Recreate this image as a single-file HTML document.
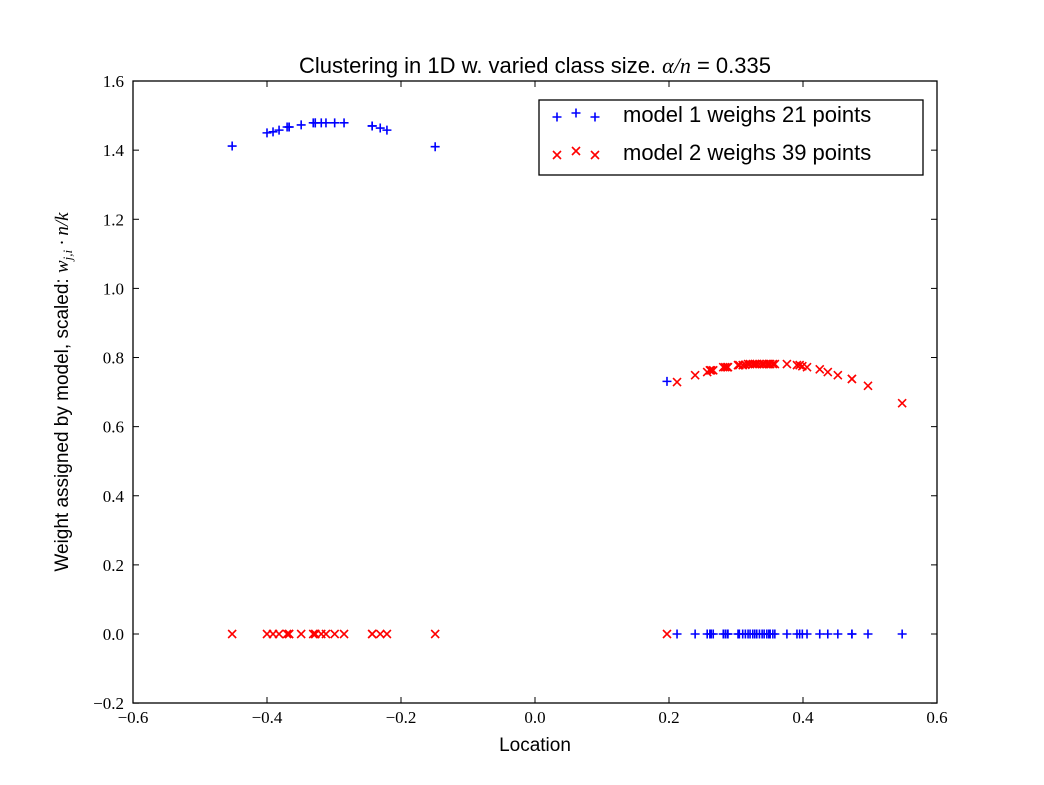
<!DOCTYPE html>
<html><head><meta charset="utf-8"><style>
html,body{margin:0;padding:0;background:#fff;}
svg{display:block;font-family:"Liberation Sans",sans-serif;}
.tick{font-family:"Liberation Serif",serif;font-size:17px;fill:#000;}
</style></head><body>
<svg id="chart" width="1044" height="785" viewBox="0 0 1044 785">
<rect x="0" y="0" width="1044" height="785" fill="#fff"/>
<text x="535" y="73" text-anchor="middle" font-size="22">Clustering in 1D w. varied class size. <tspan font-family="Liberation Serif,serif" font-style="italic">α/n</tspan> = 0.335</text>
<g id="ticks"></g>
<g id="marks"></g>
<rect x="133" y="81" width="804" height="622" fill="none" stroke="#000" stroke-width="1.3"/>
<text x="535" y="751" text-anchor="middle" font-size="19">Location</text>
<text transform="translate(68,392) rotate(-90)" text-anchor="middle" font-size="19">Weight assigned by model, scaled: <tspan font-family="Liberation Serif,serif" font-style="italic">w<tspan font-size="13" dy="4">j,i</tspan><tspan dy="-4"> · n/k</tspan></tspan></text>
<g>
<rect x="539" y="100" width="384" height="75" fill="#fff" stroke="#000" stroke-width="1.3"/>
<g id="legmarks"></g>
<text x="623" y="122" font-size="22">model 1 weighs 21 points</text>
<text x="623" y="160" font-size="22">model 2 weighs 39 points</text>
</g>
</svg>
<script>
const leftX=[-0.452,-0.400,-0.391,-0.382,-0.370,-0.367,-0.367,-0.349,-0.331,-0.328,-0.328,-0.319,-0.312,-0.299,-0.285,-0.243,-0.243,-0.231,-0.221,-0.149];
const leftW1=[1.412,1.450,1.453,1.458,1.467,1.467,1.467,1.473,1.479,1.479,1.479,1.479,1.479,1.479,1.479,1.470,1.470,1.464,1.458,1.410];
const m1ExtraX=[0.197];
const m1ExtraW=[0.731];
const rightX=[0.212,0.239,0.257,0.261,0.263,0.266,0.281,0.284,0.287,0.288,0.303,0.305,0.310,0.314,0.318,0.321,0.325,0.328,0.331,0.335,0.339,0.342,0.346,0.349,0.351,0.355,0.358,0.376,0.391,0.395,0.399,0.406,0.425,0.437,0.452,0.473,0.473,0.497,0.548];
const rightW2=[0.729,0.749,0.758,0.763,0.763,0.763,0.772,0.772,0.772,0.772,0.778,0.778,0.778,0.779,0.781,0.781,0.781,0.781,0.781,0.781,0.781,0.781,0.781,0.781,0.781,0.781,0.781,0.781,0.778,0.778,0.775,0.772,0.766,0.758,0.749,0.738,0.738,0.718,0.668];
const xTicks=[-0.6,-0.4,-0.2,0.0,0.2,0.4,0.6];
const yTicks=[-0.2,0.0,0.2,0.4,0.6,0.8,1.0,1.2,1.4,1.6];
const NS='http://www.w3.org/2000/svg';
const sx=v=>535+v*670;
const sy=v=>634-v*345.6;
function el(tag,attrs,parent){const e=document.createElementNS(NS,tag);for(const k in attrs)e.setAttribute(k,attrs[k]);parent.appendChild(e);return e;}
const tg=document.getElementById('ticks');
xTicks.forEach(t=>{const x=sx(t);
el('line',{x1:x,x2:x,y1:703,y2:697,stroke:'#000'},tg);el('line',{x1:x,x2:x,y1:81,y2:87,stroke:'#000'},tg);
const tx=el('text',{x:x,y:723,'text-anchor':'middle',class:'tick'},tg);tx.textContent=(t<0?'−':'')+Math.abs(t).toFixed(1);

});
yTicks.forEach(t=>{const y=sy(t);
el('line',{x1:133,x2:139,y1:y,y2:y,stroke:'#000'},tg);el('line',{x1:937,x2:931,y1:y,y2:y,stroke:'#000'},tg);
const tx=el('text',{x:124,y:y+6,'text-anchor':'end',class:'tick'},tg);tx.textContent=(t<0?'−':'')+Math.abs(t).toFixed(1);

});
const mg=document.getElementById('marks');
function plus(x,y,p,name){const g=el('g',{},p);
el('path',{d:`M${x-4.5},${y}H${x+4.5}M${x},${y-4.5}V${y+4.5}`,stroke:'#0000ff','stroke-width':1.6,fill:'none'},g);}
function cross(x,y,p,name){const g=el('g',{},p);
el('path',{d:`M${x-4},${y-4}L${x+4},${y+4}M${x-4},${y+4}L${x+4},${y-4}`,stroke:'#ff0000','stroke-width':1.6,fill:'none'},g);}
leftX.forEach((v,i)=>plus(sx(v),sy(leftW1[i]),mg,'model1-point'));
m1ExtraX.forEach((v,i)=>plus(sx(v),sy(m1ExtraW[i]),mg,'model1-point'));
rightX.forEach(v=>plus(sx(v),sy(0),mg,'model1-point'));
rightX.forEach((v,i)=>cross(sx(v),sy(rightW2[i]),mg,'model2-point'));
m1ExtraX.forEach(v=>cross(sx(v),sy(0),mg,'model2-point'));
leftX.forEach(v=>cross(sx(v),sy(0),mg,'model2-point'));
const lg=document.getElementById('legmarks');
[557,576,595].forEach((x,i)=>plus(x,[117,113,117][i],lg,'legend-marker-model-1'));
[557,576,595].forEach((x,i)=>cross(x,[155,151,155][i],lg,'legend-marker-model-2'));
</script>
</body></html>
